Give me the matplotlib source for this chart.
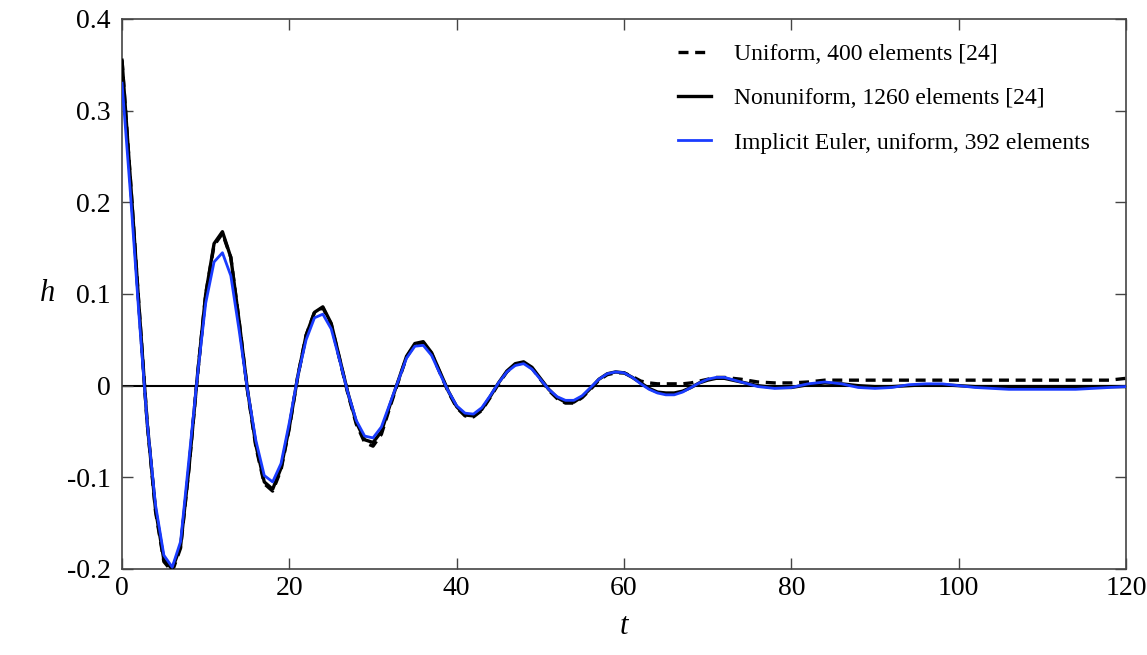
import matplotlib
matplotlib.use('Agg')
import matplotlib.pyplot as plt

plt.rcParams['font.family'] = ['Liberation Serif', 'DejaVu Serif']

# time grid: step 1 up to 72, step 2 afterwards
t = list(range(0, 73)) + list(range(74, 121, 2))

h_uniform = [
    0.355, 0.225, 0.09, -0.04, -0.137, -0.192, -0.203, -0.177, -0.09, 0.01,
    0.1, 0.153, 0.166, 0.14, 0.07, -0.006, -0.067, -0.107, -0.115, -0.092,
    -0.046, 0.01, 0.055, 0.08, 0.085, 0.067, 0.029, -0.009, -0.042, -0.062,
    -0.066, -0.053, -0.024, 0.004, 0.031, 0.045, 0.047, 0.035, 0.014, -0.007,
    -0.024, -0.033, -0.034, -0.027, -0.013, 0.002, 0.015, 0.023, 0.025, 0.019,
    0.007, -0.005, -0.014, -0.019, -0.019, -0.013, -0.004, 0.006, 0.012, 0.014,
    0.014, 0.01, 0.005, 0.003, 0.002, 0.002, 0.002, 0.002, 0.003, 0.005,
    0.007, 0.009, 0.009,
    0.007, 0.004, 0.003, 0.003, 0.004, 0.006, 0.006, 0.006, 0.006, 0.006,
    0.006, 0.006, 0.006, 0.006, 0.006, 0.006, 0.006, 0.006, 0.006, 0.006,
    0.006, 0.006, 0.006, 0.008,
]

h_nonuniform = [
    0.355, 0.225, 0.09, -0.04, -0.135, -0.19, -0.2, -0.175, -0.09, 0.01,
    0.1, 0.155, 0.168, 0.14, 0.07, -0.005, -0.065, -0.105, -0.113, -0.09,
    -0.045, 0.01, 0.055, 0.08, 0.086, 0.068, 0.03, -0.008, -0.04, -0.059,
    -0.062, -0.05, -0.022, 0.005, 0.032, 0.046, 0.048, 0.036, 0.015, -0.006,
    -0.023, -0.032, -0.033, -0.026, -0.012, 0.003, 0.016, 0.024, 0.026, 0.02,
    0.008, -0.004, -0.013, -0.018, -0.018, -0.012, -0.003, 0.007, 0.013, 0.015,
    0.014, 0.009, 0.003, -0.003, -0.007, -0.008, -0.008, -0.006, -0.002, 0.003,
    0.006, 0.008, 0.008,
    0.004, 0.0, -0.002, -0.002, 0.001, 0.003, 0.002, 0.0, -0.001, -0.001,
    0.0, 0.001, 0.001, 0.0, -0.001, -0.001, -0.001, -0.001, -0.001, -0.001,
    -0.001, -0.001, -0.001, -0.001,
]

h_euler = [
    0.33, 0.21, 0.08, -0.04, -0.13, -0.185, -0.198, -0.17, -0.08, 0.01,
    0.09, 0.135, 0.145, 0.12, 0.06, -0.005, -0.06, -0.098, -0.105, -0.085,
    -0.04, 0.01, 0.05, 0.074, 0.078, 0.062, 0.028, -0.008, -0.038, -0.055,
    -0.057, -0.045, -0.02, 0.005, 0.03, 0.043, 0.044, 0.033, 0.013, -0.006,
    -0.022, -0.03, -0.031, -0.024, -0.011, 0.003, 0.015, 0.022, 0.024, 0.018,
    0.007, -0.004, -0.012, -0.016, -0.016, -0.011, -0.002, 0.007, 0.013, 0.015,
    0.014, 0.009, 0.002, -0.004, -0.008, -0.01, -0.01, -0.007, -0.002, 0.003,
    0.007, 0.009, 0.009,
    0.004, -0.001, -0.003, -0.002, 0.002, 0.004, 0.002, -0.002, -0.003, -0.002,
    0.001, 0.002, 0.002, 0.0, -0.002, -0.003, -0.004, -0.004, -0.004, -0.004,
    -0.004, -0.003, -0.002, -0.001,
]

labels = ['Uniform, 400 elements [24]',
          'Nonuniform, 1260 elements [24]',
          'Implicit Euler, uniform, 392 elements']

xticks = [0, 20, 40, 60, 80, 100, 120]
yticks = [-0.2, -0.1, 0, 0.1, 0.2, 0.3, 0.4]
ytick_labels = ['-0.2', '-0.1', '0', '0.1', '0.2', '0.3', '0.4']

fig = plt.figure(figsize=(11.47, 6.55), dpi=100)
ax = fig.add_axes([0.1064, 0.1313, 0.8753, 0.8397])

ax.axhline(0, color='black', lw=1.5, zorder=1)
ax.plot(t, h_uniform, color='black', lw=2.4, dashes=(3, 2), label=labels[0], zorder=2)
ax.plot(t, h_nonuniform, color='black', lw=2.4, label=labels[1], zorder=3)
ax.plot(t, h_euler, color='#1a3cff', lw=2.0, label=labels[2], zorder=4)

ax.set_xlim(0, 120)
ax.set_ylim(-0.2, 0.4)
ax.set_xticks(xticks)
ax.set_xticklabels([str(x) for x in xticks])
ax.set_yticks(yticks)
ax.set_yticklabels(ytick_labels)
ax.tick_params(direction='in', length=8, width=1, top=True, right=True,
               labelsize=20, colors='#444444', labelcolor='black')
ax.tick_params(axis='x', pad=5)
ax.tick_params(axis='y', pad=8)
for sp in ax.spines.values():
    sp.set_color('#444444')
    sp.set_linewidth(1.2)

ax.set_xlabel('t', fontsize=22, style='italic', labelpad=8)
ax.set_ylabel('h', fontsize=22, style='italic', rotation=0, labelpad=14, va='center')

ax.legend(loc='upper left', bbox_to_anchor=(0.544, 0.973), frameon=False,
          fontsize=17, handlelength=1.4, handletextpad=1.0, labelspacing=0.97,
          borderaxespad=0.0)

fig.savefig('out.png', dpi=100)
